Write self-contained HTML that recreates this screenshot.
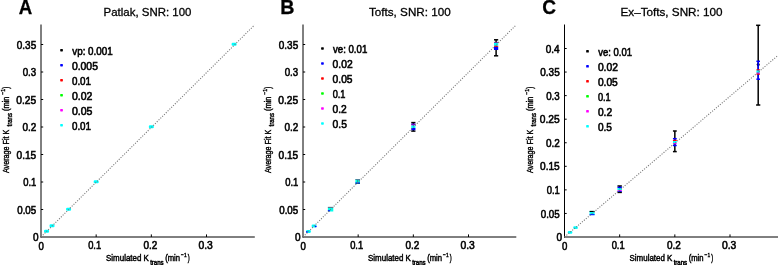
<!DOCTYPE html>
<html><head><meta charset="utf-8"><style>
html,body{margin:0;padding:0;background:#fff;overflow:hidden;}
svg{display:block;font-family:"Liberation Sans", sans-serif;will-change:transform;}
</style></head><body>
<svg width="778" height="265" viewBox="0 0 778 265" fill="#000">
<text x="18.69" y="14.20" font-size="21" font-weight="bold" textLength="13.46" lengthAdjust="spacingAndGlyphs" fill="#000" stroke="#000" stroke-width="0.3">A</text>
<text x="280.33" y="14.20" font-size="21" font-weight="bold" textLength="14.21" lengthAdjust="spacingAndGlyphs" fill="#000" stroke="#000" stroke-width="0.3">B</text>
<text x="542.37" y="14.40" font-size="21" font-weight="bold" textLength="13.81" lengthAdjust="spacingAndGlyphs" fill="#000" stroke="#000" stroke-width="0.3">C</text>
<text x="103.61" y="15.90" font-size="11.7" textLength="87.79" lengthAdjust="spacingAndGlyphs" fill="#000" stroke="#000" stroke-width="0.3">Patlak, SNR: 100</text>
<text x="368.99" y="15.90" font-size="11.7" textLength="81.71" lengthAdjust="spacingAndGlyphs" fill="#000" stroke="#000" stroke-width="0.3">Tofts, SNR: 100</text>
<text x="620.50" y="15.90" font-size="11.7" textLength="102.10" lengthAdjust="spacingAndGlyphs" fill="#000" stroke="#000" stroke-width="0.3">Ex&#8211;Tofts, SNR: 100</text>
<line x1="41.00" y1="24.5" x2="41.00" y2="237.50" stroke="#000" stroke-width="1"/>
<line x1="40.50" y1="237.00" x2="254.80" y2="237.00" stroke="#000" stroke-width="1"/>
<text x="33.01" y="241.10" font-size="11.6" textLength="5.58" lengthAdjust="spacingAndGlyphs" fill="#000" stroke="#000" stroke-width="0.6">0</text>
<line x1="41.00" y1="209.50" x2="43.20" y2="209.50" stroke="#000" stroke-width="1"/>
<text x="17.22" y="213.60" font-size="11.6" textLength="18.99" lengthAdjust="spacingAndGlyphs" fill="#000" stroke="#000" stroke-width="0.6">0.05</text>
<line x1="41.00" y1="182.00" x2="43.20" y2="182.00" stroke="#000" stroke-width="1"/>
<text x="23.13" y="186.10" font-size="11.6" textLength="13.13" lengthAdjust="spacingAndGlyphs" fill="#000" stroke="#000" stroke-width="0.6">0.1</text>
<line x1="41.00" y1="154.50" x2="43.20" y2="154.50" stroke="#000" stroke-width="1"/>
<text x="16.50" y="158.60" font-size="11.6" textLength="19.72" lengthAdjust="spacingAndGlyphs" fill="#000" stroke="#000" stroke-width="0.6">0.15</text>
<line x1="41.00" y1="127.00" x2="43.20" y2="127.00" stroke="#000" stroke-width="1"/>
<text x="22.41" y="131.10" font-size="11.6" textLength="13.89" lengthAdjust="spacingAndGlyphs" fill="#000" stroke="#000" stroke-width="0.6">0.2</text>
<line x1="41.00" y1="99.50" x2="43.20" y2="99.50" stroke="#000" stroke-width="1"/>
<text x="16.30" y="103.60" font-size="11.6" textLength="19.93" lengthAdjust="spacingAndGlyphs" fill="#000" stroke="#000" stroke-width="0.6">0.25</text>
<line x1="41.00" y1="72.00" x2="43.20" y2="72.00" stroke="#000" stroke-width="1"/>
<text x="22.72" y="76.10" font-size="11.6" textLength="13.51" lengthAdjust="spacingAndGlyphs" fill="#000" stroke="#000" stroke-width="0.6">0.3</text>
<line x1="41.00" y1="44.50" x2="43.20" y2="44.50" stroke="#000" stroke-width="1"/>
<text x="16.81" y="48.60" font-size="11.6" textLength="19.41" lengthAdjust="spacingAndGlyphs" fill="#000" stroke="#000" stroke-width="0.6">0.35</text>
<text x="38.42" y="249.60" font-size="11.6" textLength="5.35" lengthAdjust="spacingAndGlyphs" fill="#000" stroke="#000" stroke-width="0.6">0</text>
<line x1="96.17" y1="237.00" x2="96.17" y2="234.40" stroke="#000" stroke-width="1"/>
<text x="88.15" y="249.40" font-size="11.6" textLength="13.02" lengthAdjust="spacingAndGlyphs" fill="#000" stroke="#000" stroke-width="0.6">0.1</text>
<line x1="151.34" y1="237.00" x2="151.34" y2="234.40" stroke="#000" stroke-width="1"/>
<text x="143.50" y="249.40" font-size="11.6" textLength="13.89" lengthAdjust="spacingAndGlyphs" fill="#000" stroke="#000" stroke-width="0.6">0.2</text>
<line x1="206.51" y1="237.00" x2="206.51" y2="234.40" stroke="#000" stroke-width="1"/>
<text x="198.51" y="249.40" font-size="11.6" textLength="14.36" lengthAdjust="spacingAndGlyphs" fill="#000" stroke="#000" stroke-width="0.6">0.3</text>
<text x="106.06" y="260.60" font-size="8.6" textLength="42.80" lengthAdjust="spacingAndGlyphs" fill="#000" stroke="#000" stroke-width="0.45">Simulated K</text>
<text x="150.16" y="264.80" font-size="7.3" textLength="13.51" lengthAdjust="spacingAndGlyphs" fill="#000" stroke="#000" stroke-width="0.5">trans</text>
<text x="165.15" y="260.60" font-size="8.6" textLength="14.92" lengthAdjust="spacingAndGlyphs" fill="#000" stroke="#000" stroke-width="0.45">(min</text>
<text x="181.06" y="257.40" font-size="6.2" textLength="5.58" lengthAdjust="spacingAndGlyphs" fill="#000" stroke="#000" stroke-width="0.4">&#8722;1</text>
<text x="187.79" y="260.60" font-size="8.6" textLength="1.95" lengthAdjust="spacingAndGlyphs" fill="#000" stroke="#000" stroke-width="0.45">)</text>
<text transform="translate(9.40,173.11) rotate(-90)" x="0" y="0" font-size="8.6" textLength="43.49" lengthAdjust="spacingAndGlyphs" stroke="#000" stroke-width="0.4">Average Fit K</text>
<text transform="translate(12.10,126.49) rotate(-90)" x="0" y="0" font-size="7.2" textLength="13.51" lengthAdjust="spacingAndGlyphs" stroke="#000" stroke-width="0.4">trans</text>
<text transform="translate(9.40,111.06) rotate(-90)" x="0" y="0" font-size="8.6" textLength="14.55" lengthAdjust="spacingAndGlyphs" stroke="#000" stroke-width="0.4">(min</text>
<text transform="translate(5.20,94.86) rotate(-90)" x="0" y="0" font-size="6.2" textLength="6.02" lengthAdjust="spacingAndGlyphs" stroke="#000" stroke-width="0.4">&#8722;1</text>
<text transform="translate(9.40,88.64) rotate(-90)" x="0" y="0" font-size="8.6" textLength="2.01" lengthAdjust="spacingAndGlyphs" stroke="#000" stroke-width="0.4">)</text>
<line x1="303.00" y1="24.5" x2="303.00" y2="237.50" stroke="#000" stroke-width="1"/>
<line x1="302.50" y1="237.00" x2="516.30" y2="237.00" stroke="#000" stroke-width="1"/>
<text x="295.01" y="241.10" font-size="11.6" textLength="5.58" lengthAdjust="spacingAndGlyphs" fill="#000" stroke="#000" stroke-width="0.6">0</text>
<line x1="303.00" y1="209.50" x2="305.20" y2="209.50" stroke="#000" stroke-width="1"/>
<text x="279.22" y="213.60" font-size="11.6" textLength="18.99" lengthAdjust="spacingAndGlyphs" fill="#000" stroke="#000" stroke-width="0.6">0.05</text>
<line x1="303.00" y1="182.00" x2="305.20" y2="182.00" stroke="#000" stroke-width="1"/>
<text x="285.13" y="186.10" font-size="11.6" textLength="13.13" lengthAdjust="spacingAndGlyphs" fill="#000" stroke="#000" stroke-width="0.6">0.1</text>
<line x1="303.00" y1="154.50" x2="305.20" y2="154.50" stroke="#000" stroke-width="1"/>
<text x="278.50" y="158.60" font-size="11.6" textLength="19.72" lengthAdjust="spacingAndGlyphs" fill="#000" stroke="#000" stroke-width="0.6">0.15</text>
<line x1="303.00" y1="127.00" x2="305.20" y2="127.00" stroke="#000" stroke-width="1"/>
<text x="284.41" y="131.10" font-size="11.6" textLength="13.89" lengthAdjust="spacingAndGlyphs" fill="#000" stroke="#000" stroke-width="0.6">0.2</text>
<line x1="303.00" y1="99.50" x2="305.20" y2="99.50" stroke="#000" stroke-width="1"/>
<text x="278.30" y="103.60" font-size="11.6" textLength="19.93" lengthAdjust="spacingAndGlyphs" fill="#000" stroke="#000" stroke-width="0.6">0.25</text>
<line x1="303.00" y1="72.00" x2="305.20" y2="72.00" stroke="#000" stroke-width="1"/>
<text x="284.72" y="76.10" font-size="11.6" textLength="13.51" lengthAdjust="spacingAndGlyphs" fill="#000" stroke="#000" stroke-width="0.6">0.3</text>
<line x1="303.00" y1="44.50" x2="305.20" y2="44.50" stroke="#000" stroke-width="1"/>
<text x="278.81" y="48.60" font-size="11.6" textLength="19.41" lengthAdjust="spacingAndGlyphs" fill="#000" stroke="#000" stroke-width="0.6">0.35</text>
<text x="300.42" y="249.60" font-size="11.6" textLength="5.35" lengthAdjust="spacingAndGlyphs" fill="#000" stroke="#000" stroke-width="0.6">0</text>
<line x1="358.17" y1="237.00" x2="358.17" y2="234.40" stroke="#000" stroke-width="1"/>
<text x="350.15" y="249.40" font-size="11.6" textLength="13.02" lengthAdjust="spacingAndGlyphs" fill="#000" stroke="#000" stroke-width="0.6">0.1</text>
<line x1="413.34" y1="237.00" x2="413.34" y2="234.40" stroke="#000" stroke-width="1"/>
<text x="405.50" y="249.40" font-size="11.6" textLength="13.89" lengthAdjust="spacingAndGlyphs" fill="#000" stroke="#000" stroke-width="0.6">0.2</text>
<line x1="468.51" y1="237.00" x2="468.51" y2="234.40" stroke="#000" stroke-width="1"/>
<text x="460.51" y="249.40" font-size="11.6" textLength="14.36" lengthAdjust="spacingAndGlyphs" fill="#000" stroke="#000" stroke-width="0.6">0.3</text>
<text x="368.06" y="260.60" font-size="8.6" textLength="42.80" lengthAdjust="spacingAndGlyphs" fill="#000" stroke="#000" stroke-width="0.45">Simulated K</text>
<text x="412.16" y="264.80" font-size="7.3" textLength="13.51" lengthAdjust="spacingAndGlyphs" fill="#000" stroke="#000" stroke-width="0.5">trans</text>
<text x="427.15" y="260.60" font-size="8.6" textLength="14.92" lengthAdjust="spacingAndGlyphs" fill="#000" stroke="#000" stroke-width="0.45">(min</text>
<text x="443.06" y="257.40" font-size="6.2" textLength="5.58" lengthAdjust="spacingAndGlyphs" fill="#000" stroke="#000" stroke-width="0.4">&#8722;1</text>
<text x="449.79" y="260.60" font-size="8.6" textLength="1.95" lengthAdjust="spacingAndGlyphs" fill="#000" stroke="#000" stroke-width="0.45">)</text>
<text transform="translate(271.40,173.11) rotate(-90)" x="0" y="0" font-size="8.6" textLength="43.49" lengthAdjust="spacingAndGlyphs" stroke="#000" stroke-width="0.4">Average Fit K</text>
<text transform="translate(274.10,126.49) rotate(-90)" x="0" y="0" font-size="7.2" textLength="13.51" lengthAdjust="spacingAndGlyphs" stroke="#000" stroke-width="0.4">trans</text>
<text transform="translate(271.40,111.06) rotate(-90)" x="0" y="0" font-size="8.6" textLength="14.55" lengthAdjust="spacingAndGlyphs" stroke="#000" stroke-width="0.4">(min</text>
<text transform="translate(267.20,94.86) rotate(-90)" x="0" y="0" font-size="6.2" textLength="6.02" lengthAdjust="spacingAndGlyphs" stroke="#000" stroke-width="0.4">&#8722;1</text>
<text transform="translate(271.40,88.64) rotate(-90)" x="0" y="0" font-size="8.6" textLength="2.01" lengthAdjust="spacingAndGlyphs" stroke="#000" stroke-width="0.4">)</text>
<line x1="564.50" y1="24.5" x2="564.50" y2="237.50" stroke="#000" stroke-width="1"/>
<line x1="564.00" y1="237.00" x2="778.50" y2="237.00" stroke="#000" stroke-width="1"/>
<text x="556.51" y="241.10" font-size="11.6" textLength="5.58" lengthAdjust="spacingAndGlyphs" fill="#000" stroke="#000" stroke-width="0.6">0</text>
<line x1="564.50" y1="213.44" x2="566.70" y2="213.44" stroke="#000" stroke-width="1"/>
<text x="540.72" y="217.54" font-size="11.6" textLength="18.99" lengthAdjust="spacingAndGlyphs" fill="#000" stroke="#000" stroke-width="0.6">0.05</text>
<line x1="564.50" y1="189.88" x2="566.70" y2="189.88" stroke="#000" stroke-width="1"/>
<text x="546.63" y="193.97" font-size="11.6" textLength="13.13" lengthAdjust="spacingAndGlyphs" fill="#000" stroke="#000" stroke-width="0.6">0.1</text>
<line x1="564.50" y1="166.31" x2="566.70" y2="166.31" stroke="#000" stroke-width="1"/>
<text x="540.00" y="170.41" font-size="11.6" textLength="19.72" lengthAdjust="spacingAndGlyphs" fill="#000" stroke="#000" stroke-width="0.6">0.15</text>
<line x1="564.50" y1="142.75" x2="566.70" y2="142.75" stroke="#000" stroke-width="1"/>
<text x="545.91" y="146.85" font-size="11.6" textLength="13.89" lengthAdjust="spacingAndGlyphs" fill="#000" stroke="#000" stroke-width="0.6">0.2</text>
<line x1="564.50" y1="119.19" x2="566.70" y2="119.19" stroke="#000" stroke-width="1"/>
<text x="539.80" y="123.29" font-size="11.6" textLength="19.93" lengthAdjust="spacingAndGlyphs" fill="#000" stroke="#000" stroke-width="0.6">0.25</text>
<line x1="564.50" y1="95.62" x2="566.70" y2="95.62" stroke="#000" stroke-width="1"/>
<text x="546.22" y="99.72" font-size="11.6" textLength="13.51" lengthAdjust="spacingAndGlyphs" fill="#000" stroke="#000" stroke-width="0.6">0.3</text>
<line x1="564.50" y1="72.06" x2="566.70" y2="72.06" stroke="#000" stroke-width="1"/>
<text x="540.31" y="76.16" font-size="11.6" textLength="19.41" lengthAdjust="spacingAndGlyphs" fill="#000" stroke="#000" stroke-width="0.6">0.35</text>
<line x1="564.50" y1="48.50" x2="566.70" y2="48.50" stroke="#000" stroke-width="1"/>
<text x="545.71" y="52.60" font-size="11.6" textLength="13.88" lengthAdjust="spacingAndGlyphs" fill="#000" stroke="#000" stroke-width="0.6">0.4</text>
<text x="561.92" y="249.60" font-size="11.6" textLength="5.35" lengthAdjust="spacingAndGlyphs" fill="#000" stroke="#000" stroke-width="0.6">0</text>
<line x1="619.67" y1="237.00" x2="619.67" y2="234.40" stroke="#000" stroke-width="1"/>
<text x="611.65" y="249.40" font-size="11.6" textLength="13.02" lengthAdjust="spacingAndGlyphs" fill="#000" stroke="#000" stroke-width="0.6">0.1</text>
<line x1="674.84" y1="237.00" x2="674.84" y2="234.40" stroke="#000" stroke-width="1"/>
<text x="667.00" y="249.40" font-size="11.6" textLength="13.89" lengthAdjust="spacingAndGlyphs" fill="#000" stroke="#000" stroke-width="0.6">0.2</text>
<line x1="730.01" y1="237.00" x2="730.01" y2="234.40" stroke="#000" stroke-width="1"/>
<text x="722.01" y="249.40" font-size="11.6" textLength="14.36" lengthAdjust="spacingAndGlyphs" fill="#000" stroke="#000" stroke-width="0.6">0.3</text>
<text x="629.56" y="260.60" font-size="8.6" textLength="42.80" lengthAdjust="spacingAndGlyphs" fill="#000" stroke="#000" stroke-width="0.45">Simulated K</text>
<text x="673.66" y="264.80" font-size="7.3" textLength="13.51" lengthAdjust="spacingAndGlyphs" fill="#000" stroke="#000" stroke-width="0.5">trans</text>
<text x="688.65" y="260.60" font-size="8.6" textLength="14.92" lengthAdjust="spacingAndGlyphs" fill="#000" stroke="#000" stroke-width="0.45">(min</text>
<text x="704.56" y="257.40" font-size="6.2" textLength="5.58" lengthAdjust="spacingAndGlyphs" fill="#000" stroke="#000" stroke-width="0.4">&#8722;1</text>
<text x="711.29" y="260.60" font-size="8.6" textLength="1.95" lengthAdjust="spacingAndGlyphs" fill="#000" stroke="#000" stroke-width="0.45">)</text>
<text transform="translate(532.90,173.11) rotate(-90)" x="0" y="0" font-size="8.6" textLength="43.49" lengthAdjust="spacingAndGlyphs" stroke="#000" stroke-width="0.4">Average Fit K</text>
<text transform="translate(535.60,126.49) rotate(-90)" x="0" y="0" font-size="7.2" textLength="13.51" lengthAdjust="spacingAndGlyphs" stroke="#000" stroke-width="0.4">trans</text>
<text transform="translate(532.90,111.06) rotate(-90)" x="0" y="0" font-size="8.6" textLength="14.55" lengthAdjust="spacingAndGlyphs" stroke="#000" stroke-width="0.4">(min</text>
<text transform="translate(528.70,94.86) rotate(-90)" x="0" y="0" font-size="6.2" textLength="6.02" lengthAdjust="spacingAndGlyphs" stroke="#000" stroke-width="0.4">&#8722;1</text>
<text transform="translate(532.90,88.64) rotate(-90)" x="0" y="0" font-size="8.6" textLength="2.01" lengthAdjust="spacingAndGlyphs" stroke="#000" stroke-width="0.4">)</text>
<rect x="60.20" y="48.95" width="2.7" height="2.5" rx="0.6" fill="#000000"/>
<text x="72.27" y="54.80" font-size="11.2" textLength="40.41" lengthAdjust="spacingAndGlyphs" fill="#000" stroke="#000" stroke-width="0.6">vp: 0.001</text>
<rect x="60.20" y="63.95" width="2.7" height="2.5" rx="0.6" fill="#0000ff"/>
<text x="71.89" y="69.80" font-size="11.2" textLength="26.04" lengthAdjust="spacingAndGlyphs" fill="#000" stroke="#000" stroke-width="0.6">0.005</text>
<rect x="60.20" y="78.95" width="2.7" height="2.5" rx="0.6" fill="#ff0000"/>
<text x="71.92" y="84.80" font-size="11.2" textLength="19.17" lengthAdjust="spacingAndGlyphs" fill="#000" stroke="#000" stroke-width="0.6">0.01</text>
<rect x="60.20" y="93.95" width="2.7" height="2.5" rx="0.6" fill="#00ff00"/>
<text x="71.89" y="99.80" font-size="11.2" textLength="20.44" lengthAdjust="spacingAndGlyphs" fill="#000" stroke="#000" stroke-width="0.6">0.02</text>
<rect x="60.20" y="108.95" width="2.7" height="2.5" rx="0.6" fill="#ff00ff"/>
<text x="71.89" y="114.80" font-size="11.2" textLength="20.56" lengthAdjust="spacingAndGlyphs" fill="#000" stroke="#000" stroke-width="0.6">0.05</text>
<rect x="60.20" y="123.95" width="2.7" height="2.5" rx="0.6" fill="#00ffff"/>
<text x="71.92" y="129.80" font-size="11.2" textLength="19.17" lengthAdjust="spacingAndGlyphs" fill="#000" stroke="#000" stroke-width="0.6">0.01</text>
<rect x="321.10" y="47.20" width="2.7" height="2.5" rx="0.6" fill="#000000"/>
<text x="332.97" y="52.90" font-size="11.2" textLength="34.30" lengthAdjust="spacingAndGlyphs" fill="#000" stroke="#000" stroke-width="0.6">ve: 0.01</text>
<rect x="321.10" y="62.20" width="2.7" height="2.5" rx="0.6" fill="#0000ff"/>
<text x="332.60" y="67.90" font-size="11.2" textLength="20.02" lengthAdjust="spacingAndGlyphs" fill="#000" stroke="#000" stroke-width="0.6">0.02</text>
<rect x="321.10" y="77.20" width="2.7" height="2.5" rx="0.6" fill="#ff0000"/>
<text x="332.60" y="82.90" font-size="11.2" textLength="19.93" lengthAdjust="spacingAndGlyphs" fill="#000" stroke="#000" stroke-width="0.6">0.05</text>
<rect x="321.10" y="92.20" width="2.7" height="2.5" rx="0.6" fill="#00ff00"/>
<text x="332.64" y="97.90" font-size="11.2" textLength="12.81" lengthAdjust="spacingAndGlyphs" fill="#000" stroke="#000" stroke-width="0.6">0.1</text>
<rect x="321.10" y="107.20" width="2.7" height="2.5" rx="0.6" fill="#ff00ff"/>
<text x="332.60" y="112.90" font-size="11.2" textLength="14.21" lengthAdjust="spacingAndGlyphs" fill="#000" stroke="#000" stroke-width="0.6">0.2</text>
<rect x="321.10" y="122.20" width="2.7" height="2.5" rx="0.6" fill="#00ffff"/>
<text x="332.60" y="127.90" font-size="11.2" textLength="14.34" lengthAdjust="spacingAndGlyphs" fill="#000" stroke="#000" stroke-width="0.6">0.5</text>
<rect x="586.15" y="50.05" width="2.7" height="2.5" rx="0.6" fill="#000000"/>
<text x="598.27" y="55.70" font-size="11.2" textLength="33.69" lengthAdjust="spacingAndGlyphs" fill="#000" stroke="#000" stroke-width="0.6">ve: 0.01</text>
<rect x="586.15" y="65.05" width="2.7" height="2.5" rx="0.6" fill="#0000ff"/>
<text x="597.90" y="70.70" font-size="11.2" textLength="20.02" lengthAdjust="spacingAndGlyphs" fill="#000" stroke="#000" stroke-width="0.6">0.02</text>
<rect x="586.15" y="80.05" width="2.7" height="2.5" rx="0.6" fill="#ff0000"/>
<text x="597.90" y="85.70" font-size="11.2" textLength="19.93" lengthAdjust="spacingAndGlyphs" fill="#000" stroke="#000" stroke-width="0.6">0.05</text>
<rect x="586.15" y="95.05" width="2.7" height="2.5" rx="0.6" fill="#00ff00"/>
<text x="597.94" y="100.70" font-size="11.2" textLength="12.81" lengthAdjust="spacingAndGlyphs" fill="#000" stroke="#000" stroke-width="0.6">0.1</text>
<rect x="586.15" y="110.05" width="2.7" height="2.5" rx="0.6" fill="#ff00ff"/>
<text x="597.90" y="115.70" font-size="11.2" textLength="14.21" lengthAdjust="spacingAndGlyphs" fill="#000" stroke="#000" stroke-width="0.6">0.2</text>
<rect x="586.15" y="125.05" width="2.7" height="2.5" rx="0.6" fill="#00ffff"/>
<text x="597.91" y="130.70" font-size="11.2" textLength="14.02" lengthAdjust="spacingAndGlyphs" fill="#000" stroke="#000" stroke-width="0.6">0.5</text>
<rect x="44.02" y="229.85" width="5.0" height="3.0" rx="1.1" fill="#00ffff"/>
<rect x="49.53" y="224.35" width="5.0" height="3.0" rx="1.1" fill="#00ffff"/>
<rect x="66.09" y="207.85" width="5.0" height="3.0" rx="1.1" fill="#00ffff"/>
<rect x="93.67" y="180.35" width="5.0" height="3.0" rx="1.1" fill="#00ffff"/>
<rect x="148.84" y="125.35" width="5.0" height="3.0" rx="1.1" fill="#00ffff"/>
<rect x="231.59" y="42.85" width="5.0" height="3.0" rx="1.1" fill="#00ffff"/>
<rect x="306.12" y="230.10" width="4.8" height="2.8" rx="1.1" fill="#00ffff"/>
<rect x="306.02" y="231.30" width="1.6" height="1.4" fill="#0000ff"/>
<rect x="311.63" y="224.60" width="4.8" height="2.8" rx="1.1" fill="#00ffff"/>
<rect x="314.93" y="225.80" width="1.6" height="1.4" fill="#0000ff"/>
<rect x="327.88" y="206.90" width="5.4" height="4.6" fill="#00ffee"/>
<rect x="327.88" y="206.90" width="5.4" height="0.9" fill="#775577"/>
<rect x="327.88" y="210.20" width="2" height="1.3" fill="#0000ff"/>
<rect x="355.40" y="179.10" width="4.6" height="4.8" fill="#00ffdd"/>
<rect x="355.40" y="179.10" width="4.6" height="0.9" fill="#557799"/>
<rect x="355.40" y="182.30" width="4.6" height="1.1" fill="#1133ff"/>
<rect x="355.40" y="183.30" width="4.6" height="0.7" fill="#112288"/>
<circle cx="357.70" cy="181.00" r="0.7" fill="#3a6a6a"/>
<line x1="413.34" y1="122.60" x2="413.34" y2="131.10" stroke="#000" stroke-width="1.5"/>
<line x1="411.24" y1="122.60" x2="415.44" y2="122.60" stroke="#000" stroke-width="1.5"/>
<line x1="411.24" y1="131.10" x2="415.44" y2="131.10" stroke="#000" stroke-width="1.5"/>
<rect x="411.24" y="123.50" width="4.2" height="1.5" fill="#3300cc"/>
<rect x="411.24" y="124.50" width="4.2" height="1.0" fill="#cc00cc"/>
<rect x="411.24" y="125.50" width="4.2" height="2.5" fill="#00ffff"/>
<rect x="411.24" y="128.00" width="4.2" height="2.2" fill="#0000ff"/>
<line x1="496.10" y1="39.80" x2="496.10" y2="55.80" stroke="#000" stroke-width="1.5"/>
<line x1="494.00" y1="39.80" x2="498.20" y2="39.80" stroke="#000" stroke-width="1.5"/>
<line x1="494.00" y1="55.80" x2="498.20" y2="55.80" stroke="#000" stroke-width="1.5"/>
<rect x="494.00" y="41.90" width="4.2" height="1" fill="#880088"/>
<rect x="494.00" y="42.80" width="4.2" height="3" fill="#00ffff"/>
<rect x="494.00" y="45.80" width="4.2" height="1.1" fill="#ff0000"/>
<rect x="494.00" y="46.90" width="4.2" height="3.1" fill="#0000ff"/>
<rect x="567.72" y="231.04" width="4.6" height="2.7" rx="1.1" fill="#00ffff"/>
<rect x="573.23" y="226.32" width="4.6" height="2.7" rx="1.1" fill="#00ffff"/>
<rect x="589.59" y="210.90" width="5" height="4.2" fill="#00ffff"/>
<rect x="589.59" y="210.90" width="5" height="1.1" fill="#000"/>
<rect x="589.59" y="214.20" width="5" height="1.0" fill="#0000ff"/>
<line x1="619.67" y1="186.00" x2="619.67" y2="192.40" stroke="#000" stroke-width="1.5"/>
<line x1="617.47" y1="186.00" x2="621.87" y2="186.00" stroke="#000" stroke-width="1.5"/>
<line x1="617.47" y1="192.40" x2="621.87" y2="192.40" stroke="#000" stroke-width="1.5"/>
<rect x="617.47" y="186.70" width="4.4" height="1.5" fill="#0000ff"/>
<rect x="617.47" y="188.20" width="4.4" height="2.0" fill="#00ffff"/>
<rect x="617.47" y="190.20" width="4.4" height="1.0" fill="#ff00ff"/>
<rect x="617.47" y="191.20" width="4.4" height="0.8" fill="#0000ff"/>
<line x1="674.84" y1="131.00" x2="674.84" y2="151.60" stroke="#000" stroke-width="1.5"/>
<line x1="672.94" y1="131.00" x2="676.74" y2="131.00" stroke="#000" stroke-width="1.5"/>
<line x1="672.94" y1="151.60" x2="676.74" y2="151.60" stroke="#000" stroke-width="1.5"/>
<line x1="674.84" y1="138.70" x2="674.84" y2="145.50" stroke="#0000ff" stroke-width="1.5"/>
<line x1="672.94" y1="138.70" x2="676.74" y2="138.70" stroke="#0000ff" stroke-width="1.5"/>
<line x1="672.94" y1="145.50" x2="676.74" y2="145.50" stroke="#0000ff" stroke-width="1.5"/>
<rect x="672.94" y="139.80" width="3.8" height="1.2" fill="#ff0000"/>
<rect x="672.94" y="141.00" width="3.8" height="2.2" fill="#00ffff"/>
<rect x="672.94" y="143.20" width="3.8" height="0.8" fill="#ff00ff"/>
<line x1="758.20" y1="25.30" x2="758.20" y2="105.00" stroke="#000" stroke-width="1.5"/>
<line x1="756.10" y1="25.30" x2="760.30" y2="25.30" stroke="#000" stroke-width="1.5"/>
<line x1="756.10" y1="105.00" x2="760.30" y2="105.00" stroke="#000" stroke-width="1.5"/>
<circle cx="758.20" cy="64.6" r="1.5" fill="#000"/>
<line x1="758.20" y1="61.30" x2="758.20" y2="79.20" stroke="#0000ff" stroke-width="1.5"/>
<line x1="756.40" y1="61.30" x2="760.00" y2="61.30" stroke="#0000ff" stroke-width="1.5"/>
<line x1="756.40" y1="79.20" x2="760.00" y2="79.20" stroke="#0000ff" stroke-width="1.5"/>
<rect x="756.40" y="69.30" width="3.6" height="1.2" fill="#ff0000"/>
<rect x="756.40" y="70.50" width="3.6" height="2.2" fill="#00ffff"/>
<rect x="756.40" y="72.70" width="3.6" height="1.0" fill="#ff00ff"/>
<rect x="756.40" y="73.70" width="3.6" height="1.0" fill="#ff0000"/>
<line x1="41.00" y1="237.00" x2="254.60" y2="24.90" stroke="#7a7a7a" stroke-width="1.1" stroke-dasharray="1.1 1.45"/>
<line x1="303.00" y1="237.00" x2="516.20" y2="24.90" stroke="#7a7a7a" stroke-width="1.1" stroke-dasharray="1.1 1.45"/>
<line x1="564.50" y1="237.00" x2="778.50" y2="55.00" stroke="#7a7a7a" stroke-width="1.1" stroke-dasharray="1.1 1.45"/>
</svg>
</body></html>
